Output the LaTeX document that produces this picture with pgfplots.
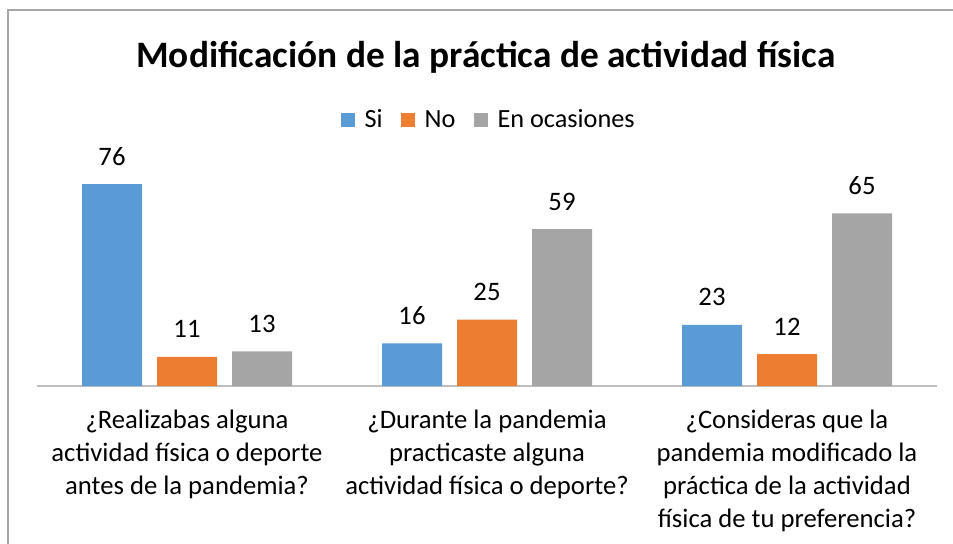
\documentclass[border=0pt]{standalone}
\usepackage{fontspec}
\setmainfont{Carlito}
\usepackage{pgfplots}
\pgfplotsset{compat=1.18}

\definecolor{siblue}{HTML}{5B9BD5}
\definecolor{noorange}{HTML}{ED7D31}
\definecolor{ocgray}{HTML}{A5A5A5}
\definecolor{framegray}{HTML}{A6A6A6}
\definecolor{axgray}{HTML}{BFBFBF}

\hyphenpenalty=10000
\exhyphenpenalty=10000

\begin{document}
\begin{tikzpicture}
  % whole picture, 953 x 543 px at 0.75pt per px
  \useasboundingbox (0,0) rectangle (714.75pt,-407.25pt);
  \begin{scope}[x=0.75pt,y=-0.75pt]
    \draw[framegray, line width=0.9pt] (8,560) -- (8,10) -- (970,10);
    \node[anchor=base, font=\fontsize{28}{33}\selectfont\bfseries]
      at (486,67) {Modificación de la práctica de actividad física};
  \end{scope}

  \begin{axis}[
    at={(27.75pt,-289.5pt)}, anchor=south west,
    width=675pt, height=159.45pt, scale only axis,
    xmin=-0.5, xmax=2.5, ymin=0, ymax=80,
    ybar=11.25pt, bar width=45pt,
    axis x line*=bottom, axis y line=none,
    x axis line style={axgray, line width=0.9pt, -},
    xtick={0,1,2}, major tick length=0,
    xticklabels={
      {¿Realizabas alguna actividad física o deporte antes de la pandemia?},
      {¿Durante la pandemia practicaste alguna actividad física o deporte?},
      {¿Consideras que la pandemia modificado la práctica de la actividad física de tu preferencia?}},
    xticklabel style={text width=216pt, align=flush center, anchor=base,
      yshift=-31.5pt, inner sep=0pt,
      font=\fontsize{20}{24.75}\selectfont},
    ytick=\empty,
    nodes near coords,
    every node near coord/.append style={anchor=base, yshift=14.25pt,
      inner sep=0pt, black, font=\fontsize{20}{24}\selectfont},
    /pgf/number format/assume math mode=true,
    legend columns=3,
    legend style={draw=none, fill=none, at={(0.3378,1.2526)}, anchor=west,
      inner sep=0pt, font=\fontsize{19.7}{24}\selectfont,
      /tikz/every odd column/.append style={column sep=5pt},
      /tikz/every even column/.append style={column sep=12pt}},
    legend image code/.code={\fill[#1] (0pt,-5.25pt) rectangle (10.5pt,5.25pt);},
    clip=false,
  ]
    \addplot[draw=none, fill=siblue] coordinates {(0,76) (1,16) (2,23)};
    \addplot[draw=none, fill=noorange] coordinates {(0,11) (1,25) (2,12)};
    \addplot[draw=none, fill=ocgray] coordinates {(0,13) (1,59) (2,65)};
    \legend{Si, No, En ocasiones}
  \end{axis}
\end{tikzpicture}
\end{document}
